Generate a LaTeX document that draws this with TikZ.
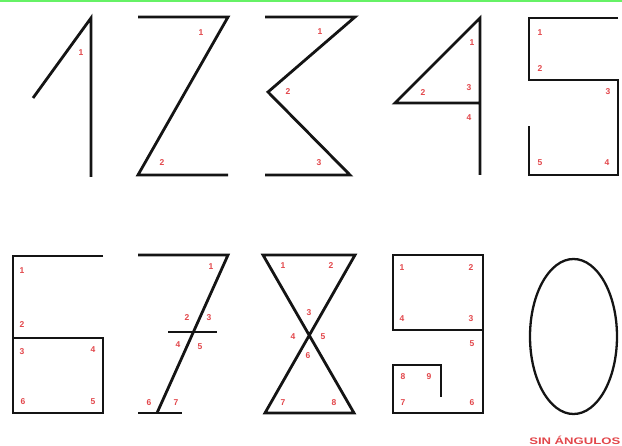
\documentclass[tikz,border=0pt]{standalone}
\usepackage{fontspec}
\setsansfont{Liberation Sans}
\usepackage{xcolor}
\definecolor{Ink}{HTML}{141414}
\definecolor{Mark}{HTML}{E2474B}
\definecolor{Lime}{HTML}{66F266}
\tikzset{
  stroke/.style={draw=Ink, line width=2.8pt, line join=miter},
  num/.style={text=Mark, font=\sffamily\bfseries\fontsize{8.5}{8.5}\selectfont, inner sep=0pt}
}
\newcommand{\angnum}[3]{\node[num] at (#1,#2) {#3};}

\begin{document}
\begin{tikzpicture}[x=1pt,y=-1pt]
        \useasboundingbox (0,0) rectangle (622,446);
        \fill[Lime] (0,0) rectangle (622,2);
        % top row: 1 to 5
        \draw[stroke] (33,98) -- (91,18) -- (91,177);
        \angnum{81}{53}{1}
        \draw[stroke] (138,17) -- (228,17) -- (138,175) -- (228,175);
        \angnum{201}{33}{1} \angnum{162}{163}{2}
        \draw[stroke] (265,17) -- (355,17) -- (268,92) -- (350,175) -- (265,175);
        \angnum{320}{32}{1} \angnum{288}{92}{2} \angnum{319}{163}{3}
        \draw[stroke] (480,175) -- (480,18) -- (395,103) -- (480,103);
        \angnum{472}{43}{1} \angnum{423}{93}{2} \angnum{469}{88}{3} \angnum{469}{118}{4}
        \draw[stroke] (618,18) -- (529,18) -- (529,80) -- (618,80) -- (618,175) -- (529,175) -- (529,126);
        \angnum{540}{33}{1} \angnum{540}{69}{2} \angnum{608}{92}{3} \angnum{607}{163}{4} \angnum{540}{163}{5}
        % bottom row: 6 to 0
        \draw[stroke] (103,256) -- (13,256) -- (13,413) -- (103,413) -- (103,338) -- (13,338);
        \angnum{22}{271}{1} \angnum{22}{325}{2} \angnum{22}{352}{3}
        \angnum{93}{350}{4} \angnum{93}{402}{5} \angnum{23}{402}{6}
        \draw[stroke] (138,255) -- (228,255) -- (157,413);
        \draw[stroke] (138,413) -- (182,413);
        \draw[stroke] (168,332) -- (217,332);
        \angnum{211}{267}{1} \angnum{187}{318}{2} \angnum{209}{318}{3} \angnum{178}{345}{4}
        \angnum{200}{347}{5} \angnum{149}{403}{6} \angnum{176}{403}{7}
        \draw[stroke] (263,255) -- (355,255) -- (265,413) -- (354,413) -- cycle;
        \angnum{283}{266}{1} \angnum{331}{266}{2} \angnum{309}{313}{3} \angnum{293}{337}{4}
        \angnum{323}{337}{5} \angnum{308}{356}{6} \angnum{283}{403}{7} \angnum{334}{403}{8}
        \draw[stroke] (483,330) -- (393,330) -- (393,255) -- (483,255) -- (483,413) -- (393,413) -- (393,365) -- (441,365) -- (441,397);
        \angnum{402}{268}{1} \angnum{471}{268}{2} \angnum{471}{319}{3} \angnum{402}{319}{4}
        \angnum{472}{344}{5} \angnum{472}{403}{6} \angnum{403}{403}{7} \angnum{403}{377}{8} \angnum{429}{377}{9}
        \draw[stroke, line width=2.3pt] (573.5,336.5) ellipse [x radius=43.5, y radius=77.5];
        \node[anchor=east, inner sep=0pt, text=Mark, font=\sffamily\bfseries\fontsize{9.5}{9.5}\selectfont] (caption) at (620.5,440) {\scalebox{1.38}[1]{SIN ÁNGULOS}};
      \end{tikzpicture}
\end{document}
